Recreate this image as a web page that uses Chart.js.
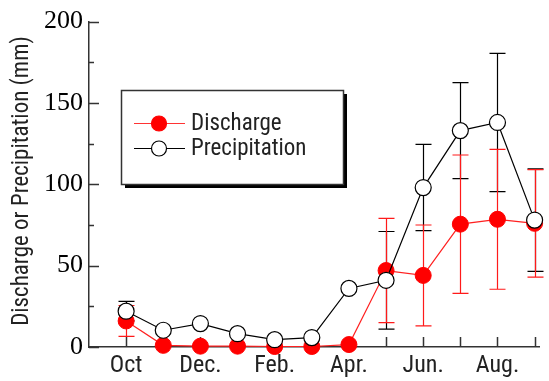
<!DOCTYPE html>
<html>
<head>
<meta charset="utf-8">
<script src="https://cdn.jsdelivr.net/npm/chart.js@4/dist/chart.umd.min.js"></script>
<style>
  html, body { margin: 0; padding: 0; background: #fff; }
  #wrap { width: 549px; height: 381px; position: relative; }
</style>
</head>
<body>
<div id="wrap"><canvas id="c" width="549" height="381"></canvas></div>
<script>
// Monthly means, October through September
const months = ['Oct', 'Nov', 'Dec.', 'Jan', 'Feb.', 'Mar', 'Apr.', 'May', 'Jun.', 'Jul', 'Aug.', 'Sep'];
const monthTickLabels = ['Oct', '', 'Dec.', '', 'Feb.', '', 'Apr.', '', 'Jun.', '', 'Aug.', ''];
const discharge    = [16, 1, 0.5, 0.5, 0.3, 0.3, 1.5, 47, 44, 75.5, 78.5, 76];
const dischargeErr = [9.5, 0, 0, 0, 0, 0, 0, 32, 31, 42.5, 43, 33];
const precipitation    = [22, 10.3, 14.4, 8.2, 4.5, 5.8, 36, 41, 98, 133, 138, 78];
const precipitationErr = [6, 0, 0, 0, 0, 0, 0, 30, 26.5, 29.5, 42.5, 31.5];
const yTicks = [0, 50, 100, 150, 200];
const yMinorTicks = [25, 75, 125, 175];
const yTitle = 'Discharge or Precipitation (mm)';

const SANS = '"Roboto Condensed", "Liberation Sans", sans-serif';
const SERIF = '"Liberation Serif", serif';
const AXIS_COLOR = '#333';

// Error bars (mean ± sd) for both series, drawn beneath the markers
const errorBars = {
  id: 'errorBars',
  beforeDatasetsDraw(chart) {
    const ctx = chart.ctx;
    const x = chart.scales.x, y = chart.scales.y;
    const series = [
      { vals: precipitation, errs: precipitationErr, color: '#000' },
      { vals: discharge, errs: dischargeErr, color: '#ff1a1a' }
    ];
    ctx.save();
    ctx.lineWidth = 1.2;
    series.forEach(s => {
      ctx.strokeStyle = s.color;
      s.vals.forEach((v, i) => {
        const e = s.errs[i];
        if (!e) return;
        const px = Math.round(x.getPixelForValue(i)) + 0.5;
        const top = y.getPixelForValue(v + e);
        const bot = y.getPixelForValue(Math.max(0, v - e));
        ctx.beginPath();
        ctx.moveTo(px, top); ctx.lineTo(px, bot);
        ctx.moveTo(px - 8, top); ctx.lineTo(px + 8, top);
        ctx.moveTo(px - 8, bot); ctx.lineTo(px + 8, bot);
        ctx.stroke();
      });
    });
    ctx.restore();
  }
};

// Inward-pointing axis ticks and the rotated y-axis title
const axisDecor = {
  id: 'axisDecor',
  beforeDatasetsDraw(chart) {
    const ctx = chart.ctx;
    const x = chart.scales.x, y = chart.scales.y;
    const area = chart.chartArea;
    ctx.save();
    ctx.strokeStyle = AXIS_COLOR;
    ctx.lineWidth = 1.5;
    ctx.beginPath();
    months.forEach((m, i) => {
      const px = Math.round(x.getPixelForValue(i)) + 0.5;
      ctx.moveTo(px, area.bottom); ctx.lineTo(px, area.bottom - 10);
    });
    yTicks.forEach(v => {
      const py = Math.round(y.getPixelForValue(v)) + 0.5;
      ctx.moveTo(area.left, py); ctx.lineTo(area.left + 10, py);
    });
    yMinorTicks.forEach(v => {
      const py = Math.round(y.getPixelForValue(v)) + 0.5;
      ctx.moveTo(area.left, py); ctx.lineTo(area.left + 5, py);
    });
    ctx.stroke();

    ctx.translate(22, 181);
    ctx.rotate(-Math.PI / 2);
    ctx.fillStyle = '#222';
    ctx.font = '23px ' + SANS;
    ctx.textAlign = 'center';
    ctx.textBaseline = 'middle';
    ctx.fillText(yTitle, 0, 0);
    ctx.restore();
  }
};

// Framed legend with a drop shadow
const boxLegend = {
  id: 'boxLegend',
  afterDraw(chart) {
    const ctx = chart.ctx;
    const bx = 121, by = 90, bw = 222, bh = 94;
    ctx.save();
    ctx.fillStyle = '#000';
    ctx.fillRect(bx + 4, by + 4, bw, bh);
    ctx.fillStyle = '#fff';
    ctx.fillRect(bx, by, bw, bh);
    ctx.strokeStyle = AXIS_COLOR;
    ctx.lineWidth = 1.5;
    ctx.strokeRect(bx + 0.5, by + 0.5, bw, bh);

    const rows = [
      { label: chart.data.datasets[1].label, y: 123, line: '#ff3333', fill: '#ff0000', stroke: '#ff0000' },
      { label: chart.data.datasets[0].label, y: 148, line: '#000', fill: '#fff', stroke: '#000' }
    ];
    rows.forEach(r => {
      ctx.strokeStyle = r.line;
      ctx.lineWidth = 1.2;
      ctx.beginPath();
      ctx.moveTo(134, r.y + 0.5); ctx.lineTo(185, r.y + 0.5);
      ctx.stroke();
      ctx.beginPath();
      ctx.arc(159, r.y + 0.5, 7.5, 0, Math.PI * 2);
      ctx.fillStyle = r.fill; ctx.fill();
      ctx.strokeStyle = r.stroke; ctx.lineWidth = 1.2; ctx.stroke();
      ctx.fillStyle = '#222';
      ctx.font = '23px ' + SANS;
      ctx.textBaseline = 'middle';
      ctx.textAlign = 'left';
      ctx.fillText(r.label, 191, r.y + 1);
    });
    ctx.restore();
  }
};

new Chart(document.getElementById('c'), {
  type: 'line',
  data: {
    datasets: [
      {
        label: 'Precipitation',
        data: precipitation.map((v, i) => ({ x: i, y: v })),
        borderColor: '#000',
        borderWidth: 1.2,
        pointRadius: 8,
        pointBackgroundColor: '#fff',
        pointBorderColor: '#000',
        pointBorderWidth: 1.2,
        tension: 0,
        clip: false,
        order: 1
      },
      {
        label: 'Discharge',
        data: discharge.map((v, i) => ({ x: i, y: v })),
        borderColor: '#ff2020',
        borderWidth: 1.2,
        pointRadius: 8,
        pointBackgroundColor: '#ff0000',
        pointBorderColor: '#ff0000',
        pointBorderWidth: 1,
        tension: 0,
        clip: false,
        order: 2
      }
    ]
  },
  options: {
    responsive: false,
    animation: false,
    devicePixelRatio: 1,
    layout: { padding: { top: 21, right: 0, left: 0, bottom: 0 } },
    plugins: { legend: { display: false }, tooltip: { enabled: false } },
    scales: {
      x: {
        type: 'linear',
        min: -1,
        max: 11.14,
        afterBuildTicks(scale) { scale.ticks = months.map((m, i) => ({ value: i })); },
        afterFit(scale) { scale.height = 34; },
        grid: { display: false, drawTicks: false },
        border: { display: true, color: AXIS_COLOR, width: 1.5 },
        ticks: {
          autoSkip: false,
          maxRotation: 0,
          padding: 5,
          color: '#222',
          font: { family: SANS, size: 24 },
          callback: (v) => monthTickLabels[v] ?? ''
        }
      },
      y: {
        min: 0,
        max: 200,
        afterBuildTicks(scale) { scale.ticks = yTicks.map(v => ({ value: v })); },
        afterFit(scale) { scale.width = 89; },
        grid: { display: false, drawTicks: false },
        border: { display: true, color: AXIS_COLOR, width: 1.5 },
        ticks: {
          padding: 6,
          color: '#000',
          font: { family: SERIF, size: 26 }
        }
      }
    }
  },
  plugins: [axisDecor, errorBars, boxLegend]
});
</script>
</body>
</html>
